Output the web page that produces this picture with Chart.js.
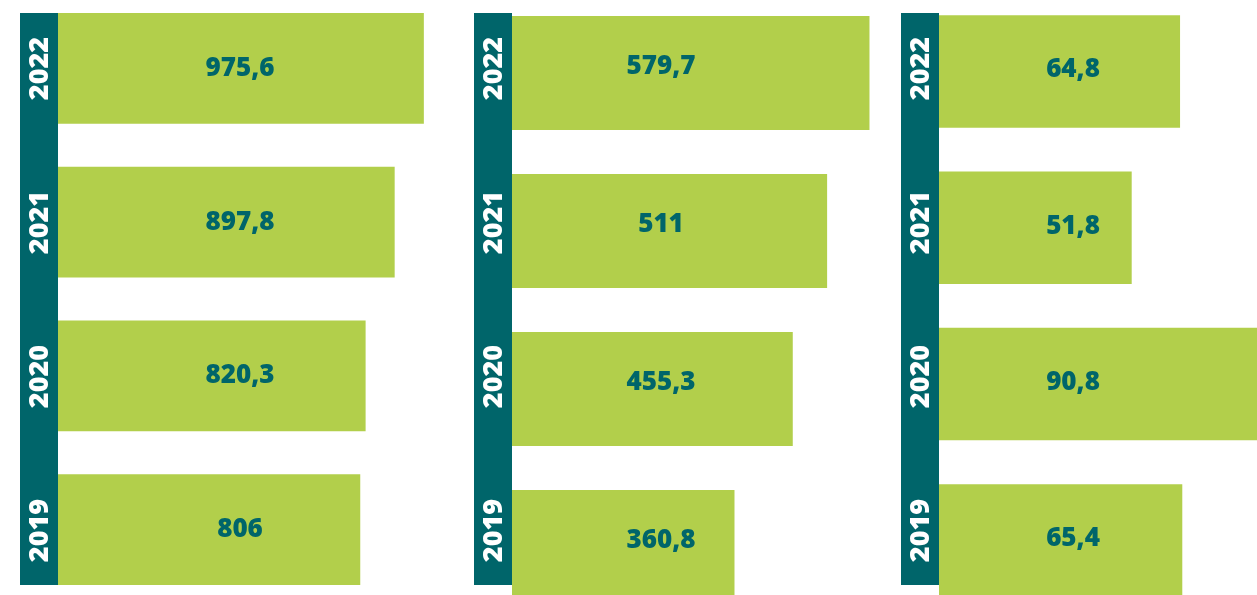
<!DOCTYPE html>
<html>
<head>
<meta charset="utf-8">
<script src="https://cdn.jsdelivr.net/npm/chart.js@4/dist/chart.umd.min.js"></script>
<style>
    html, body { margin: 0; padding: 0; background: #fff; overflow: hidden; width: 1257px; height: 595px; }
    .panel { position: absolute; top: -20px; }
</style>
</head>
<body>
<div class="panel" style="left:20px"><canvas id="chart1" width="413" height="680"></canvas></div>
<div class="panel" style="left:474px"><canvas id="chart2" width="408" height="680"></canvas></div>
<div class="panel" style="left:901px"><canvas id="chart3" width="410" height="680"></canvas></div>

<script>
// Data
const years = ['2022', '2021', '2020', '2019'];
const panel1Values = [975.6, 897.8, 820.3, 806];
const panel2Values = [579.7, 511, 455.3, 360.8];
const panel3Values = [64.8, 51.8, 90.8, 65.4];

const TEAL = '#00656a';
const GREEN = '#b2cf4b';
const STRIP_WIDTH = 38;
const CANVAS_SHIFT = 20; // canvas sits 20px above the page top

// strip + year labels share one grid across the three panels
const STRIP_TOP = 13, STRIP_BOTTOM = 585;
const YEAR_Y0 = 68.5, YEAR_STEP = 154;

function fmt(v) {
    return String(v).replace('.', ',');
}

const stripPlugin = {
    id: 'yearStrip',
    beforeDatasetsDraw(chart) {
        const { ctx, chartArea } = chart;
        const left = chartArea.left - STRIP_WIDTH;
        ctx.save();
        ctx.fillStyle = TEAL;
        ctx.fillRect(left, STRIP_TOP + CANVAS_SHIFT, STRIP_WIDTH, STRIP_BOTTOM - STRIP_TOP);

        ctx.fillStyle = '#ffffff';
        ctx.font = '800 27px "Open Sans"';
        ctx.textAlign = 'center';
        ctx.textBaseline = 'middle';
        chart.data.labels.forEach((label, i) => {
            ctx.save();
            ctx.translate(left + STRIP_WIDTH / 2 + 1, YEAR_Y0 + i * YEAR_STEP + CANVAS_SHIFT);
            ctx.rotate(-Math.PI / 2);
            ctx.fillText(label, 0, 0);
            ctx.restore();
        });
        ctx.restore();
    }
};

const valueLabelPlugin = {
    id: 'valueLabels',
    afterDatasetsDraw(chart, args, opts) {
        const { ctx, chartArea } = chart;
        const yScale = chart.scales.y;
        ctx.save();
        ctx.fillStyle = TEAL;
        ctx.font = '800 26px "Open Sans"';
        ctx.textAlign = 'center';
        ctx.textBaseline = 'middle';
        chart.data.datasets[0].data.forEach((v, i) => {
            const y = yScale.getPixelForValue(i) + opts.dy;
            ctx.fillText(fmt(v), chartArea.left + opts.offset, y);
        });
        ctx.restore();
    }
};

function makePanel(canvasId, values, xMax, padTop, padBottom, labelOffset, labelDy) {
    const ctx = document.getElementById(canvasId).getContext('2d');
    return new Chart(ctx, {
        type: 'bar',
        data: {
            labels: years,
            datasets: [{
                data: values,
                backgroundColor: GREEN,
                borderWidth: 0,
                barPercentage: 0.72,
                categoryPercentage: 1
            }]
        },
        options: {
            indexAxis: 'y',
            responsive: false,
            animation: false,
            layout: {
                padding: { left: STRIP_WIDTH, right: 0, top: padTop, bottom: padBottom }
            },
            scales: {
                x: { display: false, min: 0, max: xMax },
                y: { display: false }
            },
            plugins: {
                legend: { display: false },
                tooltip: { enabled: false },
                valueLabels: { offset: labelOffset, dy: labelDy }
            }
        },
        plugins: [stripPlugin, valueLabelPlugin]
    });
}

makePanel('chart1', panel1Values, 1000, 11.5, 53.5, 182, 0);
makePanel('chart2', panel2Values, 600, 14, 34, 149, -6);
makePanel('chart3', panel3Values, 100, 13.35, 41.45, 134, -1.5);
</script>
</body>
</html>
